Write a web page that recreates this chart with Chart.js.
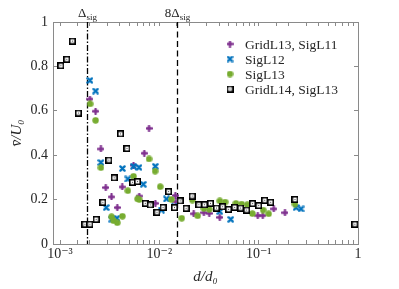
<!DOCTYPE html>
<html>
<head>
<meta charset="utf-8">
<script src="https://cdn.jsdelivr.net/npm/chart.js@4/dist/chart.umd.min.js"></script>
<style>
  html, body { margin: 0; padding: 0; background: #fff; }
  #wrap { width: 399px; height: 289px; }
</style>
</head>
<body>
<div id="wrap"><canvas id="myChart"></canvas></div>
<script>
/* d/d0 vs mean v / U0, four grid / sigma runs */

// GridL13, SigL11 (purple plus)
const gridL13X = [0.00200, 0.00228, 0.00787, 0.00258, 0.00705, 0.0055, 0.00289, 0.00423, 0.0033, 0.00377,
                  0.00627, 0.00911, 0.0145, 0.0147, 0.0222, 0.0281, 0.0318, 0.0406, 0.0869, 0.098, 0.11, 0.142, 0.184];
const gridL13Y = [0.653, 0.598, 0.521, 0.428, 0.409, 0.355, 0.254, 0.257, 0.212, 0.164,
                  0.216, 0.183, 0.218, 0.190, 0.136, 0.141, 0.138, 0.120, 0.182, 0.128, 0.128, 0.158, 0.141];

// SigL12 (blue x)
const sigL12X = [0.0020, 0.00228, 0.00258, 0.00425, 0.0055, 0.00624, 0.00911, 0.00482, 0.00292, 0.00374,
                 0.00333, 0.00689, 0.0118, 0.0105, 0.0214, 0.025, 0.0406, 0.0523, 0.0573, 0.0658, 0.238, 0.267, 0.0142, 0.0186];
const sigL12Y = [0.737, 0.689, 0.367, 0.340, 0.350, 0.345, 0.350, 0.293, 0.164, 0.116,
                 0.112, 0.269, 0.203, 0.153, 0.216, 0.177, 0.146, 0.111, 0.165, 0.162, 0.164, 0.158, 0.170, 0.160];

// SigL13 (green circle)
const sigL13X = [0.00201, 0.00228, 0.00258, 0.00787, 0.00906, 0.0055, 0.00482, 0.00603, 0.00627, 0.0102,
                 0.0033, 0.00346, 0.00425, 0.00377, 0.0132, 0.0168, 0.0215, 0.0243, 0.0281, 0.0318,
                 0.0406, 0.046, 0.059, 0.0673, 0.0768, 0.0865, 0.111, 0.126, 0.232, 0.93];
const sigL13Y = [0.631, 0.557, 0.344, 0.383, 0.328, 0.305, 0.240, 0.203, 0.200, 0.258,
                 0.123, 0.105, 0.125, 0.096, 0.201, 0.116, 0.198, 0.127, 0.160, 0.156,
                 0.194, 0.189, 0.183, 0.180, 0.177, 0.137, 0.153, 0.136, 0.180, 0.089];

// GridL14, SigL13 (black square)
const gridL14X = [0.00102, 0.00117, 0.00133, 0.00153, 0.00178, 0.0020, 0.00231, 0.0027, 0.0031, 0.00351,
                  0.00407, 0.00472, 0.00537, 0.00603, 0.00722, 0.0081, 0.00947, 0.0109, 0.0124, 0.0142,
                  0.0162, 0.0186, 0.0214, 0.025, 0.0285, 0.0327, 0.0376, 0.0433, 0.0498, 0.0573,
                  0.0658, 0.0757, 0.0869, 0.100, 0.115, 0.132, 0.232, 0.93];
const gridL14Y = [0.803, 0.832, 0.914, 0.590, 0.089, 0.089, 0.111, 0.188, 0.378, 0.298,
                  0.496, 0.430, 0.278, 0.281, 0.183, 0.176, 0.143, 0.165, 0.236, 0.164,
                  0.194, 0.161, 0.216, 0.177, 0.177, 0.183, 0.162, 0.168, 0.156, 0.165,
                  0.162, 0.153, 0.182, 0.173, 0.197, 0.188, 0.201, 0.089];

const seriesNames = ['GridL13, SigL11', 'SigL12', 'SigL13', 'GridL14, SigL13'];

// vertical reference lines: Delta_sig and 8 Delta_sig
const deltaSig = 0.00189;
const refLines = [deltaSig, 8 * deltaSig];
const refPrefix = ['', '8'];

const xTickValues = [0.001, 0.01, 0.1, 1];
const xTickLabels = ['10\u207B\u00B3', '10\u207B\u00B2', '10\u207B\u00B9', '1'];
const yTickLabels = ['0', '0.2', '0.4', '0.6', '0.8', '1'];

const serif = "'Liberation Serif', 'DejaVu Serif', serif";
const axisGray = '#8a8a8a';

function toPoints(xs, ys) {
    return xs.map((x, i) => ({x: x, y: ys[i]}));
}

// little canvases used as marker images
function makeMarker(kind, color) {
    const c = document.createElement('canvas');
    c.width = 7; c.height = 7;
    const g = c.getContext('2d');
    g.strokeStyle = color;
    g.fillStyle = color;
    g.lineCap = 'round';
    g.lineWidth = 2.3;
    if (kind === 'plus') {
        g.beginPath();
        g.moveTo(3.5, 1); g.lineTo(3.5, 6);
        g.moveTo(1, 3.5); g.lineTo(6, 3.5);
        g.stroke();
    } else if (kind === 'x') {
        g.beginPath();
        g.moveTo(1.4, 1.4); g.lineTo(5.6, 5.6);
        g.moveTo(5.6, 1.4); g.lineTo(1.4, 5.6);
        g.stroke();
    } else if (kind === 'circle') {
        g.beginPath();
        g.arc(3.5, 3.5, 3.2, 0, Math.PI * 2);
        g.fill();
    } else {
        g.fillRect(0, 0, 7, 7);
        g.fillStyle = '#fff';
        g.fillRect(1.6, 1.6, 3.8, 3.8);
        g.fillStyle = '#444';
        g.fillRect(3, 3, 1, 1);
    }
    return c;
}

const markers = [
    makeMarker('plus', '#7E2F8E'),
    makeMarker('x', '#0072BD'),
    makeMarker('circle', '#77AC30'),
    makeMarker('square', '#000')
];

// reference lines and an in-plot legend
const extras = {
    id: 'extras',
    beforeDatasetsDraw(chart) {
        const {ctx, chartArea: a, scales: {x}} = chart;
        ctx.save();
        ctx.strokeStyle = '#000';
        ctx.fillStyle = '#222';
        refLines.forEach((v, i) => {
            const px = Math.round(x.getPixelForValue(v)) + 0.5;
            ctx.lineWidth = 1.3;
            ctx.setLineDash(i === 0 ? [6, 2, 1.5, 2] : [6, 3.5]);
            ctx.beginPath();
            ctx.moveTo(px, a.top);
            ctx.lineTo(px, a.bottom);
            ctx.stroke();
            // label above the axes
            ctx.setLineDash([]);
            ctx.font = '13px ' + serif;
            const main = refPrefix[i] + '\u0394';
            const wMain = ctx.measureText(main).width;
            ctx.font = '9px ' + serif;
            const wSub = ctx.measureText('sig').width;
            const x0 = px - (wMain + wSub) / 2;
            ctx.font = '13px ' + serif;
            ctx.textBaseline = 'alphabetic';
            ctx.textAlign = 'left';
            ctx.fillText(main, x0, 17);
            ctx.font = '9px ' + serif;
            ctx.fillText('sig', x0 + wMain, 20);
        });
        ctx.restore();
    },
    afterDraw(chart) {
        const ctx = chart.ctx;
        ctx.save();
        ctx.font = '13.5px ' + serif;
        ctx.fillStyle = '#262626';
        ctx.textBaseline = 'middle';
        ctx.textAlign = 'left';
        const rows = [44, 59, 74, 89];
        seriesNames.forEach((name, i) => {
            ctx.drawImage(markers[i], 230 - 3.5, rows[i] - 3.5);
            ctx.fillText(name, 245, rows[i] + 1);
        });
        ctx.restore();
    }
};

// inward tick marks only, no grid lines in the plot
const inwardTicks = {
    display: true,
    drawOnChartArea: false,
    drawTicks: true,
    tickLength: -4,
    color: axisGray
};

function createChart() {
    const myChart = document.getElementById('myChart');

    const datasets = [
        {label: seriesNames[0], data: toPoints(gridL13X, gridL13Y), pointStyle: markers[0], order: 3},
        {label: seriesNames[1], data: toPoints(sigL12X, sigL12Y), pointStyle: markers[1], order: 2},
        {label: seriesNames[2], data: toPoints(sigL13X, sigL13Y), pointStyle: markers[2], order: 1},
        {label: seriesNames[3], data: toPoints(gridL14X, gridL14Y), pointStyle: markers[3], order: 0}
    ];

    new Chart(myChart, {
        type: 'scatter',
        data: {datasets: datasets},
        options: {
            responsive: true,
            maintainAspectRatio: false,
            animation: false,
            events: [],
            layout: {padding: {left: 0, right: 41, top: 22, bottom: 0}},
            scales: {
                x: {
                    type: 'logarithmic',
                    min: 0.00085,
                    max: 1,
                    afterFit: s => { s.height = 45; },
                    grid: inwardTicks,
                    border: {display: true, color: axisGray, width: 1},
                    ticks: {
                        autoSkip: false,
                        maxRotation: 0,
                        padding: 6,
                        color: '#262626',
                        font: {family: serif, size: 14},
                        callback: (v) => {
                            const k = xTickValues.findIndex(t => Math.abs(Math.log10(v) - Math.log10(t)) < 1e-6);
                            return k >= 0 ? xTickLabels[k] : '';
                        }
                    },
                    title: {
                        display: true,
                        text: 'd/d\u2080',
                        color: '#262626',
                        padding: {top: 0, bottom: 3},
                        font: {family: serif, size: 15, style: 'italic'}
                    }
                },
                xTop: {
                    type: 'logarithmic',
                    position: 'top',
                    min: 0.00085,
                    max: 1,
                    afterFit: s => { s.height = 0; },
                    grid: inwardTicks,
                    border: {display: true, color: axisGray, width: 1},
                    ticks: {display: false, autoSkip: false}
                },
                y: {
                    min: 0,
                    max: 1,
                    afterFit: s => { s.width = 53; },
                    grid: inwardTicks,
                    border: {display: true, color: axisGray, width: 1},
                    ticks: {
                        stepSize: 0.2,
                        padding: 9,
                        color: '#262626',
                        font: {family: serif, size: 14},
                        callback: (v, i) => yTickLabels[i]
                    },
                    title: {
                        display: true,
                        text: 'v\u0304/U\u2080',
                        color: '#262626',
                        padding: {top: 8, bottom: 6},
                        font: {family: serif, size: 15, style: 'italic'}
                    }
                },
                yRight: {
                    position: 'right',
                    min: 0,
                    max: 1,
                    afterFit: s => { s.width = 0; },
                    grid: inwardTicks,
                    border: {display: true, color: axisGray, width: 1},
                    ticks: {display: false, stepSize: 0.2}
                }
            },
            plugins: {
                legend: {display: false},
                tooltip: {enabled: false}
            }
        },
        plugins: [extras]
    });
}

createChart();
</script>
</body>
</html>
